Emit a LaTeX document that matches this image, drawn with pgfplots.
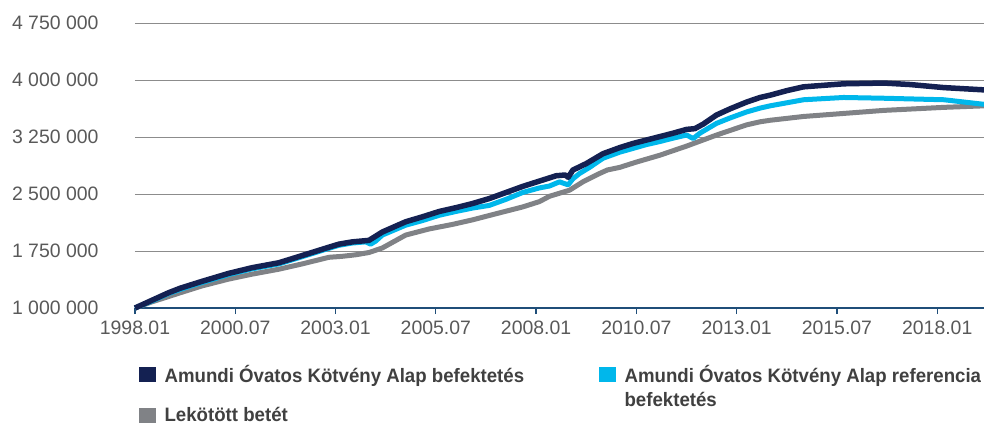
\documentclass[border=0pt]{standalone}
\usepackage{pgfplots}
\pgfplotsset{compat=1.18}
\usepackage{fontspec}
\setmainfont{Liberation Sans}
\newfontfamily\legfont{Liberation Sans}[FakeStretch=0.96]
\newfontfamily\tickfont{Liberation Sans}
\definecolor{navy}{RGB}{20,33,82}
\definecolor{cyanline}{RGB}{0,183,235}
\definecolor{grayline}{RGB}{128,130,134}
\definecolor{axisblue}{RGB}{31,78,121}
\definecolor{gridgray}{RGB}{140,140,140}
\definecolor{ticktext}{RGB}{89,89,89}
\definecolor{legtext}{RGB}{64,64,64}
\begin{document}
\begin{tikzpicture}
\begin{axis}[
  scale only axis,
  width=849bp, height=285bp,
  xmin=0, xmax=254,
  ymin=1000000, ymax=4750000,
  scaled y ticks=false,
  axis lines*=left,
  y axis line style={draw=none},
  x axis line style={draw=axisblue, line width=1.3bp},
  ytick={1000000,1750000,2500000,3250000,4000000,4750000},
  yticklabels={1 000 000,1 750 000,2 500 000,3 250 000,4 000 000,4 750 000},
  xtick={0,30,60,90,120,150,180,210,240},
  xticklabels={1998.01,2000.07,2003.01,2005.07,2008.01,2010.07,2013.01,2015.07,2018.01},
  ytick style={draw=none},
  xtick style={draw=axisblue, line width=1.3bp},
  xtick align=outside,
  major tick length=6bp,
  ymajorgrids,
  grid style={gridgray, line width=0.9bp},
  tick label style={font=\tickfont\fontsize{19.5}{21}\selectfont, text=ticktext},
  yticklabel style={anchor=east, xshift=-33bp},
  xticklabel style={yshift=-3bp},
  clip=false,
  legend columns=2,
  legend cell align=left,
  legend style={at={(axis description cs:0,0)}, anchor=north west, xshift=4bp, yshift=-55bp,
    draw=none, fill=none, inner sep=0pt,
    font=\legfont\bfseries\fontsize{19.5}{24}\selectfont, text=legtext,
    /tikz/column 1/.style={column sep=7bp},
    /tikz/column 2/.style={column sep=73bp},
    /tikz/column 3/.style={column sep=7bp},
    row sep=19bp},
  legend image code/.code={\fill[#1] (0bp,-7bp) rectangle (16bp,7bp);},
]
\addplot[grayline, line width=5bp, line join=round, forget plot] coordinates {
(0,1000000) (5,1080000) (10,1150000) (13.5,1200000) (20,1290000) (28,1380000) (35,1445000) (43,1510000) (50,1580000) (58,1667000) (62,1680000) (66,1700000) (70,1730000) (74,1790000) (81,1960000) (88,2040000) (95,2100000) (101,2160000) (108,2240000) (116,2330000) (121,2400000) (124,2470000) (127,2510000) (130,2550000) (134,2660000) (139,2770000) (141.3,2816000) (145,2850000) (150,2920000) (157,3010000) (165,3130000) (174,3276000) (183,3410000) (187,3450000) (190,3470000) (200,3520000) (212,3560000) (224,3600000) (242,3640000) (254,3660000)
};
\addplot[cyanline, line width=5bp, line join=round, forget plot] coordinates {
(0,1000000) (5,1090000) (10,1190000) (13.5,1245000) (20,1335000) (28,1440000) (35,1515000) (43,1580000) (50,1675000) (58,1785000) (61,1825000) (65,1855000) (69,1870000) (70.5,1840000) (72,1880000) (74,1960000) (81,2090000) (86,2150000) (91,2220000) (96,2270000) (101,2315000) (106,2350000) (111,2430000) (116,2520000) (121,2580000) (124,2605000) (127,2660000) (129.6,2620000) (131,2700000) (133,2770000) (136,2850000) (140,2970000) (145,3050000) (149,3100000) (153,3150000) (157,3190000) (161,3235000) (165,3276000) (167,3230000) (169,3300000) (174,3430000) (178,3500000) (183,3580000) (187,3630000) (190,3660000) (195,3700000) (200,3740000) (212,3770000) (224,3760000) (242,3740000) (254,3680000)
};
\addplot[navy, line width=5.5bp, line join=round, forget plot] coordinates {
(0,1000000) (5,1100000) (10,1200000) (13.5,1260000) (20,1350000) (28,1455000) (35,1530000) (43,1595000) (50,1690000) (58,1800000) (61,1840000) (65,1870000) (70,1890000) (74,2000000) (81,2135000) (86,2200000) (91,2270000) (96,2320000) (101,2375000) (106,2440000) (111,2520000) (116,2600000) (121,2670000) (126,2740000) (128.7,2750000) (129.6,2720000) (131,2815000) (135,2900000) (140,3030000) (145,3110000) (149,3165000) (153,3210000) (157,3255000) (161,3300000) (165,3350000) (167.5,3360000) (170,3420000) (174,3540000) (178,3620000) (183,3710000) (187,3770000) (190,3800000) (195,3860000) (200,3910000) (206,3930000) (212,3950000) (224,3960000) (232,3940000) (242,3900000) (254,3870000)
};
\addlegendimage{navy}
\addlegendentry{Amundi Óvatos Kötvény Alap befektetés}
\addlegendimage{cyanline}
\addlegendentry{\raisebox{0pt}[\height][0pt]{\begin{tabular}[t]{@{}l@{}}Amundi Óvatos Kötvény Alap referencia\\befektetés\end{tabular}}}
\addlegendimage{grayline}
\addlegendentry{Lekötött betét}
\end{axis}
\pgfresetboundingbox
\path (current axis.south west) ++(-135bp,-117bp) rectangle ++(984bp,425bp);
\end{tikzpicture}
\end{document}
